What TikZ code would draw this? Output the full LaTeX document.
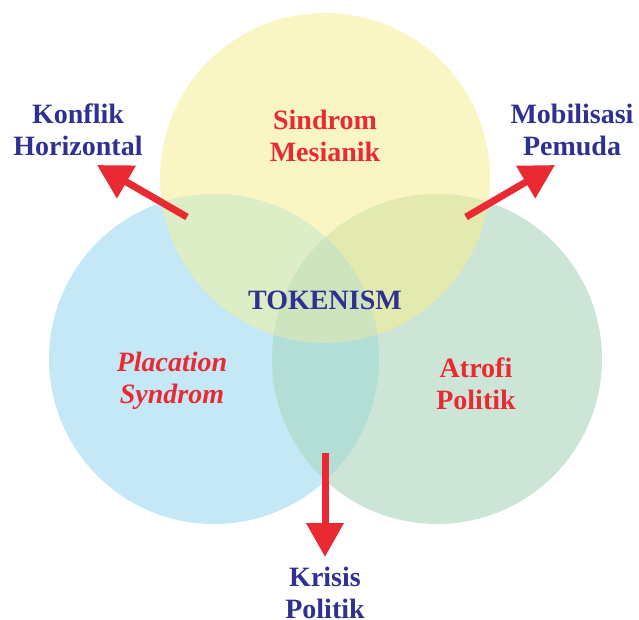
\documentclass[tikz,border=0pt]{standalone}
\usepackage{fontspec}
\setmainfont{Liberation Serif}
\usetikzlibrary{arrows.meta}
\definecolor{cyel}{HTML}{FAF6C4}
\definecolor{cblu}{HTML}{C5E8F7}
\definecolor{cgrn}{HTML}{CCE5D6}
\definecolor{cyb}{HTML}{DDEDC5}
\definecolor{cyg}{HTML}{E3EAB0}
\definecolor{cbg}{HTML}{B2DED6}
\definecolor{cybg}{HTML}{CDE4BE}
\definecolor{cred}{HTML}{EA2A33}
\definecolor{cnavy}{HTML}{2E3192}
\begin{document}
\begin{tikzpicture}[x=1pt,y=-1pt,
  lbl/.style={font=\fontsize{28}{32}\selectfont\bfseries, align=center, inner sep=0pt},
  outlbl/.style={lbl, text=cnavy},
  inlbl/.style={lbl, text=cred},
  arr/.style={draw=cred, line width=7pt, -{Triangle[length=34pt,width=36pt]}}]
\useasboundingbox (0,0) rectangle (639,619);
\coordinate (Y) at (325,178);
\coordinate (B) at (214,359);
\coordinate (G) at (437,359);
\def\R{165}
\fill[cyel] (Y) circle[radius=\R];
\fill[cblu] (B) circle[radius=\R];
\fill[cgrn] (G) circle[radius=\R];
\begin{scope}
  \clip (Y) circle[radius=\R];
  \fill[cyb] (B) circle[radius=\R];
  \fill[cyg] (G) circle[radius=\R];
\end{scope}
\begin{scope}
  \clip (B) circle[radius=\R];
  \fill[cbg] (G) circle[radius=\R];
  \clip (G) circle[radius=\R];
  \fill[cybg] (Y) circle[radius=\R];
\end{scope}
\node[inlbl] (sm) at (325,136) {Sindrom\\Mesianik};
\node[inlbl, font=\fontsize{28}{32}\selectfont\bfseries\itshape] (ps) at (172,381) {Placation\\Syndrom};
\node[inlbl] (ap) at (476,384) {Atrofi\\Politik};
\node[outlbl] (tk) at (325,300) {TOKENISM};
\node[outlbl] (kh) at (78,130) {Konflik\\Horizontal};
\node[outlbl] (mp) at (572,130) {Mobilisasi\\Pemuda};
\node[outlbl] (kp) at (325,593) {Krisis\\Politik};
\coordinate (a1s) at (187,217);
\coordinate (a1e) at (97,165);
\coordinate (a2s) at (466,217);
\coordinate (a2e) at (555,165);
\coordinate (a3s) at (325,453);
\coordinate (a3e) at (325,557);
\draw[arr] (a1s) -- (a1e);
\draw[arr] (a2s) -- (a2e);
\draw[arr] (a3s) -- (a3e);
\end{tikzpicture}
\end{document}
